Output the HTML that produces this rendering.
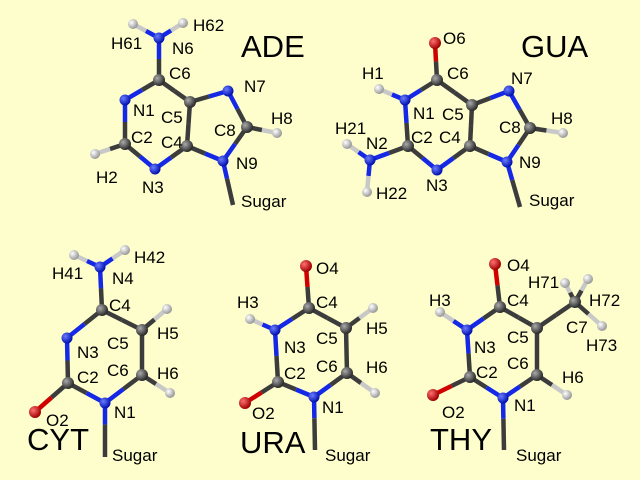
<!DOCTYPE html>
<html><head><meta charset="utf-8"><style>
html,body{margin:0;padding:0;background:#fefecc;}
svg{display:block;}
text{font-family:"Liberation Sans",sans-serif;font-size:17px;fill:#000;}
.big{font-size:31px;}
</style></head><body>
<svg id="s" width="640" height="480" viewBox="0 0 640 480" xmlns="http://www.w3.org/2000/svg">
<defs>
<radialGradient id="gC" cx="35%" cy="35%" r="65%"><stop offset="0" stop-color="#aaa"/><stop offset="1" stop-color="#2a2a2a"/></radialGradient>
<radialGradient id="gN" cx="35%" cy="35%" r="65%"><stop offset="0" stop-color="#6a7cff"/><stop offset="1" stop-color="#0010b0"/></radialGradient>
<radialGradient id="gO" cx="35%" cy="35%" r="65%"><stop offset="0" stop-color="#ff7070"/><stop offset="1" stop-color="#a00000"/></radialGradient>
<radialGradient id="gH" cx="35%" cy="35%" r="65%"><stop offset="0" stop-color="#fff"/><stop offset="1" stop-color="#999"/></radialGradient>
</defs>
<rect width="640" height="480" fill="#fefecc"/>
<g id="mol"></g>
<g transform="translate(0,1)">
<!-- ADE labels -->
<text x="111" y="48">H61</text><text x="193" y="30">H62</text><text x="172" y="53">N6</text><text x="169" y="78">C6</text>
<text x="244" y="91">N7</text><text x="133" y="115">N1</text><text x="161" y="122">C5</text><text x="214" y="135">C8</text>
<text x="271" y="123">H8</text><text x="131" y="142">C2</text><text x="161" y="147">C4</text><text x="236" y="168">N9</text>
<text x="96" y="182">H2</text><text x="142" y="192">N3</text><text x="241" y="206">Sugar</text>
<text class="big" x="241" y="56">ADE</text>
<!-- GUA labels -->
<text x="443" y="43">O6</text><text x="447" y="78">C6</text><text x="362" y="78">H1</text><text x="511" y="83">N7</text>
<text x="413" y="118">N1</text><text x="442" y="119">C5</text><text x="551" y="123">H8</text><text x="499" y="132">C8</text>
<text x="335" y="133">H21</text><text x="366" y="148">N2</text><text x="411" y="142">C2</text><text x="439" y="142">C4</text>
<text x="519" y="167">N9</text><text x="426" y="190">N3</text><text x="376" y="198">H22</text><text x="529" y="205">Sugar</text>
<text class="big" x="521" y="56">GUA</text>
<!-- CYT labels -->
<text x="52" y="278">H41</text><text x="112" y="283">N4</text><text x="134" y="262">H42</text><text x="109" y="310">C4</text>
<text x="157" y="338">H5</text><text x="77" y="357">N3</text><text x="107" y="348">C5</text><text x="107" y="375">C6</text>
<text x="157" y="378">H6</text><text x="77" y="382">C2</text><text x="114" y="417">N1</text><text x="46" y="425">O2</text>
<text x="112" y="460">Sugar</text><text class="big" x="27" y="449">CYT</text>
<!-- URA labels -->
<text x="316" y="273">O4</text><text x="237" y="307">H3</text><text x="316" y="307">C4</text><text x="366" y="333">H5</text>
<text x="284" y="352">N3</text><text x="316" y="343">C5</text><text x="316" y="371">C6</text><text x="366" y="372">H6</text>
<text x="284" y="378">C2</text><text x="322" y="412">N1</text><text x="252" y="418">O2</text><text x="325" y="460">Sugar</text>
<text class="big" x="240" y="452">URA</text>
<!-- THY labels -->
<text x="507" y="270">O4</text><text x="528" y="287">H71</text><text x="589" y="305">H72</text><text x="566" y="332">C7</text>
<text x="586" y="350">H73</text><text x="429" y="305">H3</text><text x="507" y="305">C4</text><text x="507" y="342">C5</text>
<text x="474" y="352">N3</text><text x="507" y="368">C6</text><text x="476" y="377">C2</text><text x="562" y="382">H6</text>
<text x="514" y="410">N1</text><text x="442" y="417">O2</text><text x="516" y="460">Sugar</text>
<text class="big" x="430" y="449">THY</text>
</g>
</svg>
<script>
var col={C:"#3c3c3c",N:"#1428e6",O:"#d00000",H:"#c8c8c8",S:"#3c3c3c"};
var rad={C:6,N:5.5,O:6,H:5,S:0};
var mols=[
{a:{H61:["H",133,24],H62:["H",183,23],N6:["N",159,38],C6:["C",159,80],N1:["N",125,100],C5:["C",190,102],N7:["N",228,91],C8:["C",247,127],H8:["H",277,133],N9:["N",223,161],C4:["C",187,146],C2:["C",125,144],H2:["H",95,154],N3:["N",155,169],S:["S",233,205]},
 b:[["H61","N6"],["H62","N6"],["N6","C6"],["C6","N1"],["C6","C5"],["N1","C2"],["C2","H2"],["C2","N3"],["N3","C4"],["C4","C5"],["C5","N7"],["N7","C8"],["C8","H8"],["C8","N9"],["N9","C4"],["N9","S"]]},
{a:{O6:["O",435,43],C6:["C",437,80],H1:["H",379,89],N1:["N",405,100],C5:["C",472,105],N7:["N",509,91],C8:["C",530,128],H8:["H",563,133],N9:["N",507,162],C4:["C",470,146],C2:["C",408,146],N3:["N",437,170],N2:["N",370,160],H21:["H",347,144],H22:["H",367,192],S:["S",520,207]},
 b:[["O6","C6"],["C6","N1"],["C6","C5"],["H1","N1"],["N1","C2"],["C2","N2"],["N2","H21"],["N2","H22"],["C2","N3"],["N3","C4"],["C4","C5"],["C5","N7"],["N7","C8"],["C8","H8"],["C8","N9"],["N9","C4"],["N9","S"]]},
{a:{H41:["H",74,255],H42:["H",125,250],N4:["N",100,267],C4:["C",102,310],H5:["H",167,309],C5:["C",142,330],N3:["N",67,338],C6:["C",142,375],H6:["H",170,393],C2:["C",68,383],N1:["N",105,403],O2:["O",35,412],S:["S",105,457]},
 b:[["H41","N4"],["H42","N4"],["N4","C4"],["C4","N3"],["C4","C5"],["C5","H5"],["C5","C6"],["C6","H6"],["C6","N1"],["N3","C2"],["C2","O2"],["C2","N1"],["N1","S"]]},
{a:{O4:["O",306,266],C4:["C",309,308],H3:["H",250,319],N3:["N",275,330],C5:["C",346,328],H5:["H",373,308],C6:["C",347,373],H6:["H",375,393],C2:["C",278,382],N1:["N",314,397],O2:["O",245,403],S:["S",315,450]},
 b:[["O4","C4"],["C4","N3"],["C4","C5"],["H3","N3"],["N3","C2"],["C5","H5"],["C5","C6"],["C6","H6"],["C6","N1"],["C2","O2"],["C2","N1"],["N1","S"]]},
{a:{O4:["O",495,264],C4:["C",500,307],H3:["H",440,312],N3:["N",467,330],C5:["C",537,328],C7:["C",575,302],H71:["H",565,283],H72:["H",588,279],H73:["H",602,326],C6:["C",537,375],H6:["H",567,395],C2:["C",470,377],N1:["N",503,398],O2:["O",433,395],S:["S",504,450]},
 b:[["O4","C4"],["C4","N3"],["C4","C5"],["H3","N3"],["N3","C2"],["C5","C7"],["C7","H71"],["C7","H72"],["C7","H73"],["C5","C6"],["C6","H6"],["C6","N1"],["C2","O2"],["C2","N1"],["N1","S"]]}
];
var g=document.getElementById("mol"),h="";
mols.forEach(function(m){
 m.b.forEach(function(b){var p=m.a[b[0]],q=m.a[b[1]];
  var mx,my;
  if(q[0]=="S"){mx=p[1]+(q[1]-p[1])*0.4;my=p[2]+(q[2]-p[2])*0.4;}
  else{mx=(p[1]+q[1])/2;my=(p[2]+q[2])/2;}
  h+='<line x1="'+p[1]+'" y1="'+p[2]+'" x2="'+mx+'" y2="'+my+'" stroke="'+col[p[0]]+'" stroke-width="4.5"/>';
  h+='<line x1="'+mx+'" y1="'+my+'" x2="'+q[1]+'" y2="'+q[2]+'" stroke="'+col[q[0]]+'" stroke-width="4.5"/>';
 });
 for(var k in m.a){var a=m.a[k];if(a[0]=="S")continue;
  h+='<circle cx="'+a[1]+'" cy="'+a[2]+'" r="'+rad[a[0]]+'" fill="url(#g'+a[0]+')"/>';}
});
g.innerHTML=h;
</script>
</body></html>
